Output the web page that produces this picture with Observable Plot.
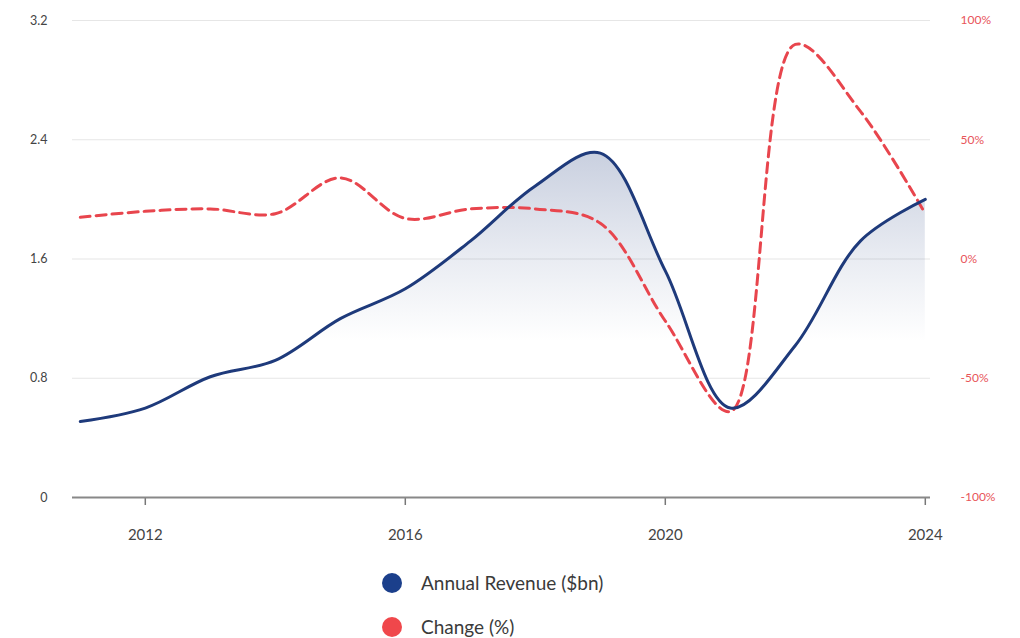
<!DOCTYPE html>
<html>
<head>
<meta charset="utf-8">
<script src="https://cdn.jsdelivr.net/npm/d3@7"></script>
<script src="https://cdn.jsdelivr.net/npm/@observablehq/plot@0.6"></script>
<style>
  html, body { margin: 0; padding: 0; background: #fff; }
  body { width: 1020px; height: 638px; overflow: hidden; font-family: Lato, "Open Sans", sans-serif; }
  #chart svg { display: block; }
  .legend { position: absolute; left: 382px; top: 561px; font-family: Lato, "Open Sans", sans-serif; font-size: 19px; color: #3a3a3a; }
  .legend div { display: flex; align-items: center; height: 44px; line-height: 44px; }
  .legend span.dot { width: 20px; height: 20px; border-radius: 50%; display: inline-block; margin-right: 19px; }
</style>
</head>
<body>
<div id="chart"></div>
<div class="legend">
  <div><span class="dot" style="background:#1b3f8b"></span>Annual Revenue ($bn)</div>
  <div><span class="dot" style="background:#f0474b"></span>Change (%)</div>
</div>
<script>
const years = [2011, 2012, 2013, 2014, 2015, 2016, 2017, 2018, 2019, 2020, 2021, 2022, 2023, 2024];
const revenue = [0.51, 0.60, 0.81, 0.92, 1.20, 1.40, 1.72, 2.09, 2.31, 1.52, 0.60, 1.02, 1.72, 2.00];
const changePct = [17.5, 20, 21, 19, 34, 17, 21, 21, 15, -26, -64, 90, 62, 19];
const revenueTicks = [0, 0.8, 1.6, 2.4, 3.2];
const changeTicks = [-100, -50, 0, 50, 100];
const yearTicks = [2012, 2016, 2020, 2024];

const yMax = 3.2;
const pctToY = p => (p + 100) / 200 * yMax;

const data = years.map((y, i) => ({ year: y, revenue: revenue[i], change: pctToY(changePct[i]) }));

const navy = "#1e3a7b";
const red = "#e8454d";

const plot = Plot.plot({
  width: 1020,
  height: 560,
  marginLeft: 72,
  marginRight: 90,
  marginTop: 20,
  marginBottom: 63,
  style: { fontFamily: "Lato, 'Open Sans', sans-serif", fontSize: "12px", background: "#fff" },
  x: { domain: [2010.88, 2024.08], label: null },
  y: { domain: [0, yMax], label: null },
  marks: [
    () => {
      const svg = d3.create("svg:defs");
      const g = svg.append("linearGradient").attr("id", "revGrad").attr("x1", 0).attr("y1", 0).attr("x2", 0).attr("y2", 1);
      g.append("stop").attr("offset", "0%").attr("stop-color", navy).attr("stop-opacity", 0.24);
      g.append("stop").attr("offset", "30%").attr("stop-color", navy).attr("stop-opacity", 0.1);
      g.append("stop").attr("offset", "55%").attr("stop-color", navy).attr("stop-opacity", 0.0);
      g.append("stop").attr("offset", "100%").attr("stop-color", navy).attr("stop-opacity", 0);
      return svg.node();
    },
    Plot.gridY(revenueTicks.filter(d => d > 0), { stroke: "#e6e6e6", strokeOpacity: 1, strokeWidth: 1.2 }),
    Plot.areaY(data, { x: "year", y: "revenue", curve: "catmull-rom", fill: "url(#revGrad)" }),
    Plot.axisY(revenueTicks, { anchor: "left", tickSize: 0, tickPadding: 25, fill: "#444", tickFormat: d => String(d), fontSize: 12.5 }),
    Plot.axisY(changeTicks.map(pctToY), { anchor: "right", tickSize: 0, tickPadding: 30, textAnchor: "start", fill: "#e8555a", tickFormat: (d, i) => changeTicks[i] + "%", fontSize: 12 }),
    Plot.axisX(yearTicks, { tickSize: 8, tickPadding: 24, stroke: "#777", strokeWidth: 1.5, fill: "#444", tickFormat: d => String(d), fontSize: 15 }),
    Plot.ruleY([0], { stroke: "#888", strokeWidth: 2.2 }),
    Plot.line(data, { x: "year", y: "change", curve: "catmull-rom", stroke: red, strokeWidth: 3, strokeDasharray: "10,6" }),
    Plot.line(data, { x: "year", y: "revenue", curve: "catmull-rom", stroke: navy, strokeWidth: 3 })
  ]
});
document.getElementById("chart").appendChild(plot);
</script>
</body>
</html>
